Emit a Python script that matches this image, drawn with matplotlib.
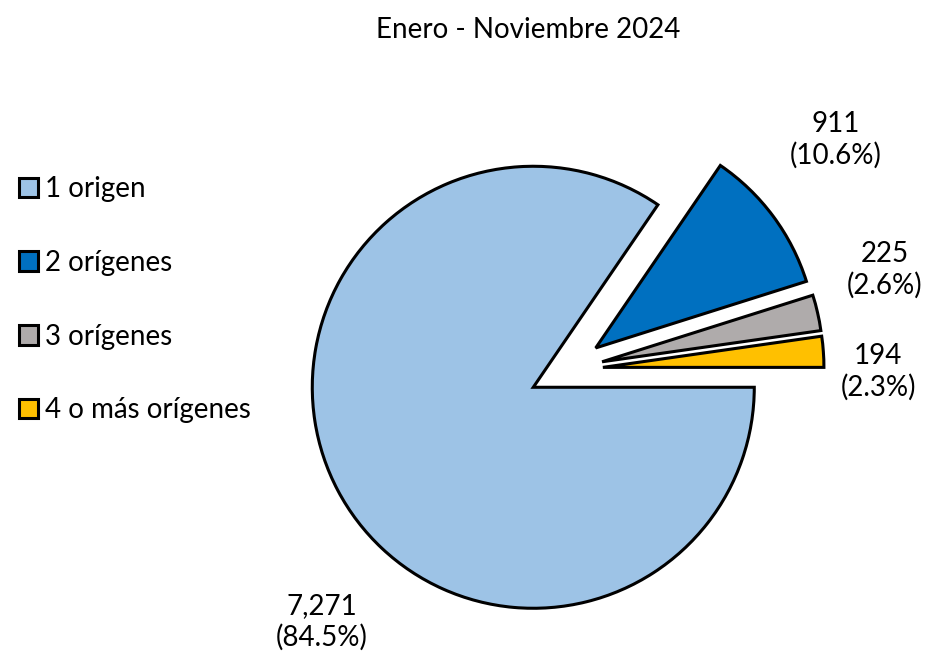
import matplotlib
matplotlib.use("Agg")
import matplotlib.pyplot as plt
from matplotlib.patches import Patch

plt.rcParams['font.family'] = ['Lato', 'DejaVu Sans']

# data
categorias = ["1 origen", "2 orígenes", "3 orígenes", "4 o más orígenes"]
valores = [7271, 911, 225, 194]
porcentajes = [84.5, 10.6, 2.6, 2.3]
colores = ["#9DC3E6", "#0070C0", "#AFABAB", "#FFC000"]
titulo = "Enero - Noviembre 2024"

fig = plt.figure(figsize=(9.3, 6.6), dpi=100)
ax = fig.add_axes([0, 0, 1, 1])

# explode va en unidades de datos (pixeles aqui)
ax.pie(valores, colors=colores, startangle=0, counterclock=False,
       explode=[37] * 4, center=(566, 290), radius=221,
       wedgeprops=dict(edgecolor="black", linewidth=2.2, joinstyle="miter"))
# pie() cambia los limites, se fijan despues
ax.set_xlim(0, 930)
ax.set_ylim(0, 660)
ax.set_aspect("equal")
ax.axis("off")

# etiquetas de datos (posiciones como en el original)
pos_etiquetas = [(322, 38), (836, 520), (885, 390), (878, 288)]
for (x, y), v, p in zip(pos_etiquetas, valores, porcentajes):
    ax.text(x, y, f"{v:,}\n({p}%)", ha="center", va="center",
            fontsize=20, linespacing=1.2)

ax.text(528, 630, titulo, ha="center", va="center", fontsize=20)

handles = [Patch(facecolor=c, edgecolor="black", linewidth=2.2) for c in colores]
ax.legend(handles, categorias, loc="upper left", bbox_to_anchor=(0.008, 0.75),
          frameon=False, fontsize=20, handlelength=0.7, handleheight=0.7,
          handletextpad=0.25, labelspacing=1.72, borderaxespad=0)

fig.savefig("out.png", dpi=100)
